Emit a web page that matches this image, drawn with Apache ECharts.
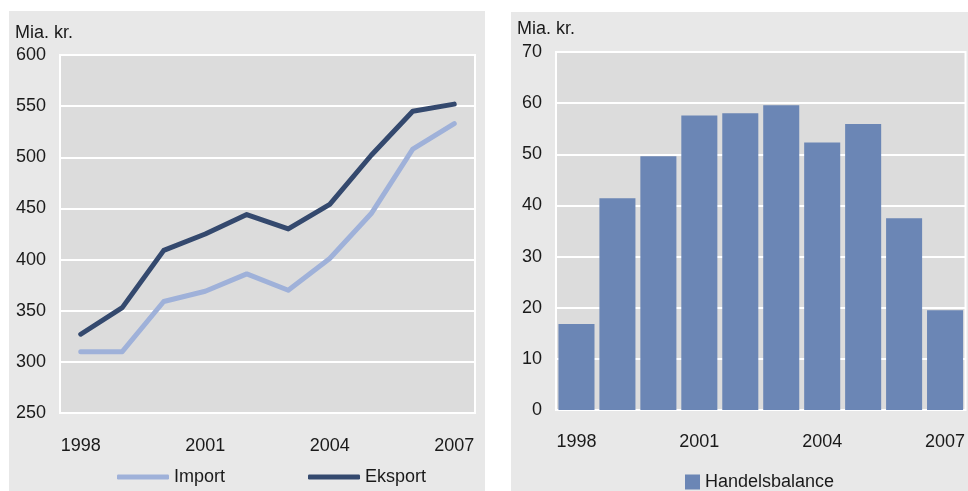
<!DOCTYPE html>
<html>
<head>
<meta charset="utf-8">
<script src="https://cdn.jsdelivr.net/npm/echarts@6/dist/echarts.min.js"></script>
<style>
  html, body { margin: 0; padding: 0; background: #fff; }
  #wrap { position: relative; width: 968px; height: 491px; }
  #left { position: absolute; left: 9px; top: 11px; width: 476px; height: 480px; }
  #right { position: absolute; left: 511px; top: 12px; width: 457px; height: 479px; }
</style>
</head>
<body>
<div id="wrap">
  <div id="left"></div>
  <div id="right"></div>
</div>
<script>
// data
var years = ['1998', '1999', '2000', '2001', '2002', '2003', '2004', '2005', '2006', '2007'];
var importVals = [310, 310, 359, 369, 386, 370, 401, 445, 508, 533];
var eksportVals = [327, 353, 409, 425, 444, 430, 454, 502, 545, 552];
var balanceVals = [16.8, 41.4, 49.6, 57.6, 58, 59.6, 52.3, 55.9, 37.5, 19.5];

var font = '"Liberation Sans", Arial, sans-serif';
var fs = 18;
var txt = '#1a1a1a';

// venstre: import / eksport
var leftChart = echarts.init(document.getElementById('left'));
leftChart.setOption({
	backgroundColor: '#e8e8e8',
	textStyle: { fontFamily: font },
	animation: false,
	title: {
		text: 'Mia. kr.',
		left: 6, top: 13, padding: 0,
		textStyle: { fontSize: fs, fontWeight: 'normal', color: txt, fontFamily: font }
	},
	legend: {
		left: 103, top: 452,
		itemWidth: 52, itemHeight: 5,
		itemGap: 83,
		textStyle: { fontSize: fs, color: txt, fontFamily: font },
		data: [
			{ name: 'Import', icon: 'roundRect' },
			{ name: 'Eksport', icon: 'roundRect' }
		]
	},
	grid: {
		left: 51, right: 10, top: 44, bottom: 78,
		show: true, backgroundColor: '#dcdcdc',
		borderColor: '#fff', borderWidth: 2
	},
	xAxis: {
		type: 'category',
		data: years,
		boundaryGap: true,
		axisLine: { show: false },
		axisTick: { show: false },
		axisLabel: { interval: 2, margin: 24, fontSize: fs, color: txt, fontFamily: font }
	},
	yAxis: {
		type: 'value',
		min: 250, max: 600, interval: 50,
		axisLine: { show: false },
		axisTick: { show: false },
		splitLine: { lineStyle: { color: '#fff', width: 2 } },
		axisLabel: { margin: 14, fontSize: fs, color: txt, fontFamily: font }
	},
	series: [{
		name: 'Import',
		type: 'line',
		data: importVals,
		symbol: 'none',
		itemStyle: { color: '#9fb1d9' },
		lineStyle: { color: '#9fb1d9', width: 5, cap: 'round', join: 'round' }
	}, {
		name: 'Eksport',
		type: 'line',
		data: eksportVals,
		symbol: 'none',
		itemStyle: { color: '#34496e' },
		lineStyle: { color: '#34496e', width: 5, cap: 'round', join: 'round' }
	}]
});

// højre: handelsbalance
var rightChart = echarts.init(document.getElementById('right'));
rightChart.setOption({
	backgroundColor: '#e8e8e8',
	textStyle: { fontFamily: font },
	animation: false,
	title: {
		text: 'Mia. kr.',
		left: 6, top: 8, padding: 0,
		textStyle: { fontSize: fs, fontWeight: 'normal', color: txt, fontFamily: font }
	},
	legend: {
		left: 169, top: 456,
		itemWidth: 15, itemHeight: 15,
		textStyle: { fontSize: fs, color: txt, fontFamily: font },
		data: [{ name: 'Handelsbalance', icon: 'rect' }]
	},
	grid: {
		left: 45, right: 1, top: 40, bottom: 81,
		show: true, backgroundColor: '#dcdcdc',
		borderColor: '#fff', borderWidth: 2
	},
	xAxis: {
		type: 'category',
		data: years,
		axisLine: { show: false },
		axisTick: { show: false },
		axisLabel: { interval: 2, margin: 23, fontSize: fs, color: txt, fontFamily: font }
	},
	yAxis: {
		type: 'value',
		min: 0, max: 70, interval: 10,
		axisLine: { show: false },
		axisTick: { show: false },
		splitLine: { lineStyle: { color: '#fff', width: 2 } },
		axisLabel: { margin: 14, fontSize: fs, color: txt, fontFamily: font }
	},
	series: [{
		name: 'Handelsbalance',
		type: 'bar',
		data: balanceVals,
		barCategoryGap: '12%',
		itemStyle: { color: '#6b86b5' }
	}]
});
</script>
</body>
</html>
